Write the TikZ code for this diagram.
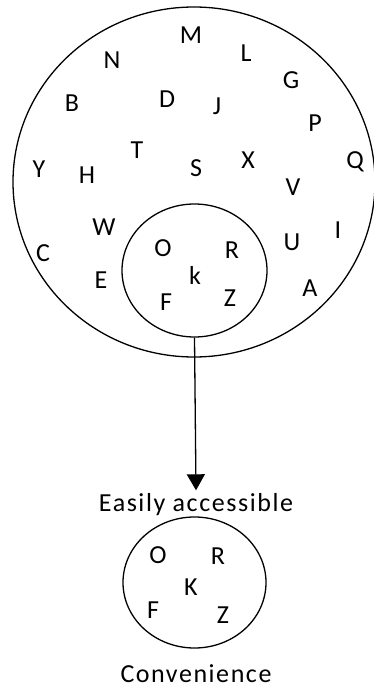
\documentclass[tikz,border=0pt]{standalone}
\usepackage{fontspec}
\setmainfont{Carlito}
\usepackage{tikz}
\usetikzlibrary{shapes.geometric,arrows.meta,positioning}

\begin{document}
\begin{tikzpicture}[x=1pt, y=-1pt, line width=1.3pt,
    every node/.style={font=\fontsize{26}{30}\selectfont, inner sep=1pt},
    set/.style={draw, ellipse, inner sep=0pt},
    item/.style={},
    caption/.style={anchor=base, inner sep=0pt,
      font=\fontsize{26}{30}\selectfont\addfontfeature{LetterSpace=6}}]
\useasboundingbox (0,0) rectangle (374,687);

% all items
\node[set, minimum width=362pt, minimum height=350pt] (all) at (194,182) {};
\foreach \n/\x/\y in {M/191/35, N/112/60, L/246/53, G/291/80, B/72/103,
    D/167/99, J/217/106, P/315/123, T/137/150, Y/39/169, H/87/175,
    S/196/168, X/248/160, Q/355/162, V/293/187, W/104/227, I/338/230,
    U/292/242, C/43/253, E/101/280, A/310/288}
  \node[item] (all-\n) at (\x,\y) {\n};

% easily accessible subset
\node[set, minimum width=145pt, minimum height=133pt] (sub) at (194.5,270.5) {};
\foreach \n/\x/\y in {O/163/248, R/232/250, k/195/275, F/166/302, Z/230/298}
  \node[item] (sub-\n) at (\x,\y) {\n};

\node[caption] (access) at (196,511) {Easily accessible};
\draw[-{Triangle[width=18pt,length=16pt]}] (sub.south) -- ([yshift=2pt]access.north);

% convenience set
\node[set, minimum width=143pt, minimum height=131pt] (conv) at (194.5,582.5) {};
\foreach \n/\x/\y in {O/158/555, R/218/556, K/191/587, F/153/610, Z/223/615}
  \node[item] (conv-\n) at (\x,\y) {\n};

\node[caption] (convlabel) at (196,682) {Convenience};

\end{tikzpicture}
\end{document}
